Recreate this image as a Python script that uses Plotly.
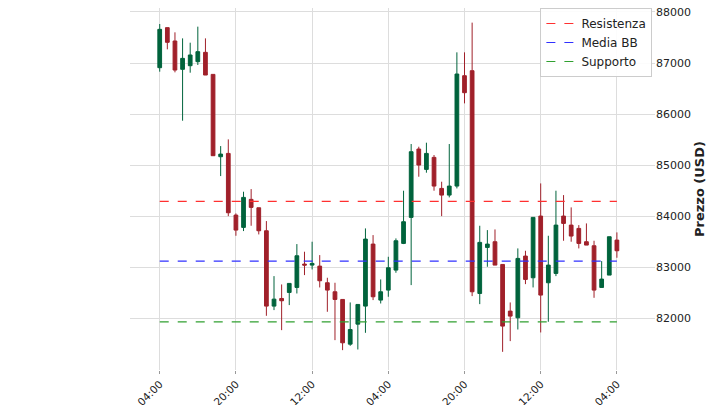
import plotly.graph_objects as go

idx = list(range(61))
open_ = [86908, 87693, 87431, 86876, 86947, 87026, 87209, 86777, 85163, 85228,
         84019, 83778, 84327, 84163, 83712, 82235, 82385, 82503, 82601, 83059,
         83039, 83019, 82693, 82516, 82366, 81490, 81882, 82235, 83451, 82353,
         82549, 82941, 83464, 83974, 85314, 84915, 85150, 84542, 84411, 84588,
         86751, 86849, 82483, 83385, 83497, 83052, 82137, 82006, 83216, 82791,
         84000, 82693, 82876, 84000, 83823, 83758, 83497, 83418, 82601, 82843,
         83529]
close = [87660, 87405, 86862, 87091, 87157, 87222, 86764, 85183, 85215, 84065,
         83725, 84366, 84170, 83712, 82235, 82372, 82340, 82680, 83222, 83039,
         83072, 82732, 82549, 82366, 81516, 81777, 82268, 83549, 82418, 82516,
         82987, 83516, 83889, 85261, 85000, 85228, 84588, 84411, 84588, 86784,
         86418, 82516, 83484, 83451, 83039, 81843, 82039, 83170, 82758, 83974,
         82451, 83039, 83823, 83856, 83608, 83464, 83431, 82549, 82765, 83595,
         83320]
high = [87764, 87693, 87601, 87483, 87398, 87712, 87483, 86777, 85372, 85503,
        84052, 84477, 84529, 84163, 83902, 82823, 82660, 82680, 83451, 83301,
        83497, 83235, 82791, 82693, 82366, 82307, 82268, 83758, 83627, 82758,
        83202, 83562, 84497, 85412, 85359, 85438, 85196, 84673, 85412, 87209,
        87209, 87791, 83810, 83725, 83738, 83052, 82307, 83366, 83320, 83974,
        84640, 83614, 84497, 84411, 84170, 83823, 83856, 83516, 83117, 83595,
        83680]
low = [86830, 87268, 86817, 85869, 86810, 86961, 86764, 85183, 84784, 83999,
       83614, 83706, 83810, 83640, 82045, 82157, 81764, 82255, 82483, 82843,
       82954, 82601, 82124, 81568, 81372, 81457, 81385, 81712, 82353, 82287,
       82418, 82889, 83451, 82647, 84771, 84850, 84497, 83999, 84366, 84542,
       86209, 82431, 82274, 83006, 83039, 81339, 81549, 81777, 82666, 82601,
       81719, 81928, 82823, 83516, 83497, 83366, 83431, 82398, 82601, 82843,
       83183]
tick_pos = [0, 10, 20, 30, 40, 50, 60]
tick_txt = ["04:00", "20:00", "12:00", "04:00", "20:00", "12:00", "04:00"]
resistenza = 84288
media_bb = 83118
supporto = 81928

fig = go.Figure()
fig.add_trace(go.Candlestick(
    x=idx, open=open_, high=high, low=low, close=close,
    increasing=dict(line=dict(color="#00633c", width=1), fillcolor="#00633c"),
    decreasing=dict(line=dict(color="#a0202a", width=1), fillcolor="#a0202a"),
    whiskerwidth=0, showlegend=False))

for val, name, col in [(resistenza, "Resistenza", "#ff3030"),
                       (media_bb, "Media BB", "#3030ff"),
                       (supporto, "Supporto", "#30a030")]:
    fig.add_trace(go.Scatter(x=[0, 60], y=[val, val], mode="lines", name=name,
                             line=dict(color=col, width=1.2, dash="dash")))

# the page adds ~8px around the figure, margins compensate for it
fig.update_layout(
    width=712, height=397, plot_bgcolor="white", paper_bgcolor="white",
    margin=dict(l=122, r=65, t=0, b=35),
    font=dict(family="DejaVu Sans", size=11, color="#222"),
    legend=dict(x=0.995, y=1, xanchor="right", yanchor="top",
                bordercolor="#ccc", borderwidth=1, bgcolor="rgba(255,255,255,0.9)",
                font=dict(size=12)),
    xaxis=dict(range=[-3.9, 65], tickvals=tick_pos, ticktext=tick_txt, tickangle=-45,
               showgrid=True, gridcolor="#dddddd", rangeslider=dict(visible=False),
               ticks="outside", ticklen=3, tickcolor="#999", zeroline=False,
               automargin=False, tickfont=dict(size=10.5), ticklabeloverflow="allow"),
    yaxis=dict(side="right", range=[80983, 88078], tickvals=list(range(82000, 88001, 1000)),
               tickformat="d", showgrid=True, gridcolor="#dddddd", zeroline=False,
               automargin=False, ticklabeloverflow="allow",
               title=dict(text="<b>Prezzo (USD)</b>", font=dict(size=13), standoff=4)),
)
fig.write_html("out.html")
